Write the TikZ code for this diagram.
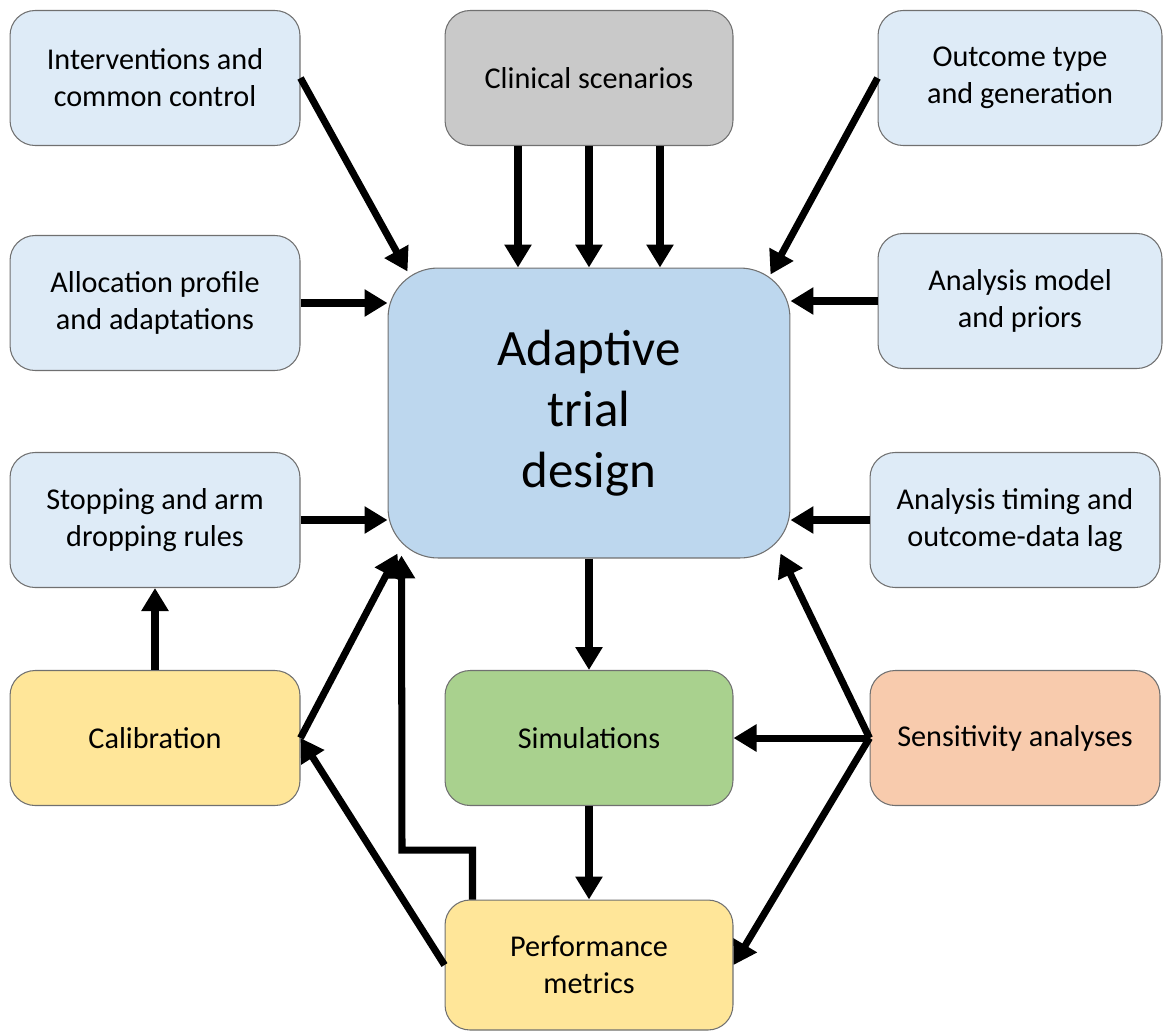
\documentclass[tikz,border=0pt]{standalone}
\usepackage{fontspec}
\setmainfont{Carlito}
\usetikzlibrary{arrows.meta,calc}
\definecolor{lblue}{HTML}{DEEBF7}
\definecolor{cblue}{HTML}{BDD7EE}
\definecolor{lgray}{HTML}{C9C9C9}
\definecolor{lyel}{HTML}{FFE699}
\definecolor{lgreen}{HTML}{A9D18E}
\definecolor{lorange}{HTML}{F8CBAD}
\definecolor{bord}{HTML}{707070}
\tikzset{
  box/.style={draw=bord, line width=0.6pt, rounded corners=0.5cm, minimum width=5.8cm, minimum height=2.7cm, align=center, inner sep=2pt,
    font=\fontsize{17.2}{21}\selectfont},
  arr/.style={draw=black, line width=4pt, -{Triangle[length=0.46cm,width=0.52cm]}, line join=miter},
}
\begin{document}
\begin{tikzpicture}[x=0.02cm,y=-0.02cm]
\useasboundingbox (0,0) rectangle (1163,1032);
\node[box, fill=lblue] (interv) at (155,78) {Interventions and\\common control};
\node[box, fill=lgray, minimum width=5.76cm] (clin) at (589,78) {Clinical scenarios};
\node[box, fill=lblue, minimum width=5.68cm] (outc) at (1020,78) {Outcome type\\and generation};
\node[box, fill=lblue] (alloc) at (155,303) {Allocation profile\\and adaptations};
\node[box, fill=lblue, minimum width=5.68cm] (anmod) at (1020,301) {Analysis model\\and priors};
\node[box, fill=cblue, rounded corners=1cm, minimum width=8.04cm, minimum height=5.8cm,
  font=\fontsize{29}{34.6}\selectfont] (c) at (589,413) {Adaptive\\trial\\design};
\node[box, fill=lblue] (stop) at (155,520) {Stopping and arm\\dropping rules};
\node[box, fill=lblue] (timing) at (1015,520) {Analysis timing and\\outcome-data lag};
\node[box, fill=lyel] (calib) at (155,738) {Calibration};
\node[box, fill=lgreen, minimum width=5.76cm] (sims) at (589,738) {Simulations};
\node[box, fill=lorange] (sens) at (1015,738) {Sensitivity analyses};
\node[box, fill=lyel, minimum width=5.76cm, minimum height=2.6cm] (perf) at (589,965) {Performance\\metrics};
\coordinate (bend) at (402,850);
% arrows
\draw[arr] (interv.east) -- ($(c.north west)+(20,4)$);
\draw[arr] ($(clin.south)+(-71,0)$) -- ($(c.north)+(-71,0)$);
\draw[arr] (clin.south) -- (c.north);
\draw[arr] ($(clin.south)+(71,0)$) -- ($(c.north)+(71,0)$);
\draw[arr] (outc.west) -- ($(c.north east)+(-20,7)$);
\draw[arr] (alloc.east) -- (alloc.east -| c.west);
\draw[arr] (anmod.west) -- (anmod.west -| c.east);
\draw[arr] (stop.east) -- (stop.east -| c.west);
\draw[arr] (timing.west) -- (timing.west -| c.east);
\draw[arr] (calib.north) -- (stop.south);
\draw[arr] (calib.east) -- ($(c.south west)+(10,-5)$);
\draw[arr] ($(perf.north west)+(28,0)$) |- (bend) -- ($(c.south west)+(14,-3)$);
\draw[arr] (perf.west) -- (calib.east);
\draw[arr] (c.south) -- (sims.north);
\draw[arr] (sims.south) -- (perf.north);
\draw[arr] (sens.west) -- (sims.east);
\draw[arr] (sens.west) -- ($(c.south east)+(-10,-5)$);
\draw[arr] (sens.west) -- (perf.east);
\end{tikzpicture}
\end{document}
